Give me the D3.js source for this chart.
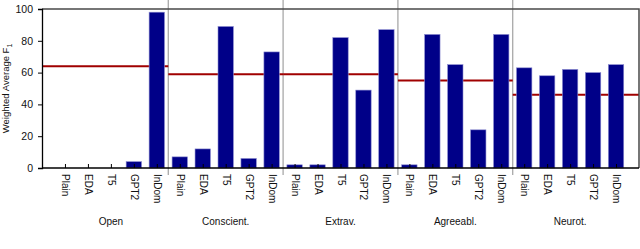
<!DOCTYPE html>
<html>
<head>
<meta charset="utf-8">
<script src="https://cdn.jsdelivr.net/npm/d3@7"></script>
<style>
  body { margin: 0; background: #fff; }
  svg text { font-family: "Liberation Sans", Arial, sans-serif; fill: #111; }
</style>
</head>
<body>
<div id="chart"></div>
<script>
// weighted average F1 per trait / method

var traits = ["Open", "Conscient.", "Extrav.", "Agreeabl.", "Neurot."];
var methods = ["Plain", "EDA", "T5", "GPT2", "InDom"];
var scores = [
    [0, 0, 0, 4, 98],
    [7, 12, 89, 6, 73],
    [2, 2, 82, 49, 87],
    [2, 84, 65, 24, 84],
    [63, 58, 62, 60, 65]
];
var baselines = [64, 59, 59, 55, 46];
var yTicks = [0, 20, 40, 60, 80, 100];

var param = {
    width: 640,
    height: 249,
    left: 42,
    right: 639,
    top: 9,
    bottom: 168
};

var nBars = traits.length * methods.length;
var x = d3.scaleLinear().domain([0, nBars + 1]).range([param.left, param.right]);
var y = d3.scaleLinear().domain([0, 100]).range([param.bottom, param.top]);
var unit = x(1) - x(0);

var svg = d3.select("#chart").append("svg")
    .attr("width", param.width)
    .attr("height", param.height);

// flat list of bars
var bars = [];
traits.forEach(function(t, g){
    methods.forEach(function(m, i){
	bars.push({trait: t, method: m, value: scores[g][i], pos: g * methods.length + i + 1});
    });
});

// group separators
var seps = d3.range(1, traits.length).map(function(g){ return g * methods.length + 0.5; });
svg.selectAll(".sep").data(seps).enter().append("line")
    .attr("class", "sep")
    .attr("x1", function(d){ return x(d); })
    .attr("x2", function(d){ return x(d); })
    .attr("y1", 0)
    .attr("y2", param.bottom + 7)
    .attr("stroke", "#a8a8a8")
    .attr("stroke-width", 1.3);

// per-trait baseline (behind the bars)
svg.selectAll(".base").data(baselines).enter().append("line")
    .attr("class", "base")
    .attr("x1", function(d, g){ return g == 0 ? x(0) : x(g * methods.length + 0.5); })
    .attr("x2", function(d, g){ return g == traits.length - 1 ? x(nBars + 1) : x((g + 1) * methods.length + 0.5); })
    .attr("y1", function(d){ return y(d); })
    .attr("y2", function(d){ return y(d); })
    .attr("stroke", "#a00000")
    .attr("stroke-width", 2);

// bars
svg.selectAll(".bar").data(bars).enter().append("rect")
    .attr("class", "bar")
    .attr("x", function(d){ return x(d.pos) - unit * 0.335; })
    .attr("width", unit * 0.67)
    .attr("y", function(d){ return y(d.value); })
    .attr("height", function(d){ return y(0) - y(d.value); })
    .attr("fill", "#000088")
    .attr("stroke", "#8c8cd0")
    .attr("stroke-width", 0.6);

// frame top / right
svg.append("path")
    .attr("d", "M" + param.left + "," + param.top + "H" + param.right + "V" + param.bottom)
    .attr("fill", "none")
    .attr("stroke", "#4a4a4a")
    .attr("stroke-width", 1.5);

// y axis
var yAxis = d3.axisLeft(y).tickValues(yTicks).tickSize(4).tickPadding(5);
var gy = svg.append("g").attr("transform", "translate(" + param.left + ",0)").call(yAxis);
gy.select(".domain").attr("stroke", "#000").attr("stroke-width", 1.3);
gy.selectAll("text").style("font-size", "10.5px").attr("fill", "#111");

// x axis, inner ticks at bar centres
var xAxis = d3.axisBottom(x).tickValues(bars.map(function(d){ return d.pos; }))
    .tickSize(-4).tickFormat(function(d){ return methods[(d - 1) % methods.length]; });
var gx = svg.append("g").attr("transform", "translate(0," + param.bottom + ")").call(xAxis);
gx.select(".domain").attr("d", "M" + param.left + ",0H" + param.right)
    .attr("stroke", "#000").attr("stroke-width", 1.5);
gx.selectAll("text")
    .style("font-size", "10px")
    .attr("fill", "#111")
    .attr("text-anchor", "start")
    .attr("transform", "rotate(90)")
    .attr("x", 6)
    .attr("y", 0)
    .attr("dy", "0.35em");

// trait labels
svg.selectAll(".trait").data(traits).enter().append("text")
    .attr("class", "trait")
    .attr("x", function(d, g){ return x(g * methods.length + 3); })
    .attr("y", 225)
    .attr("text-anchor", "middle")
    .style("font-size", "10px")
    .text(function(d){ return d; });

// y label
var yl = svg.append("text")
    .attr("transform", "translate(9," + ((param.top + param.bottom) / 2) + ") rotate(-90)")
    .attr("text-anchor", "middle")
    .style("font-size", "9.5px");
yl.append("tspan").text("Weighted Average F");
yl.append("tspan").attr("dy", 2.5).style("font-size", "7px").text("1");
</script>
</body>
</html>
